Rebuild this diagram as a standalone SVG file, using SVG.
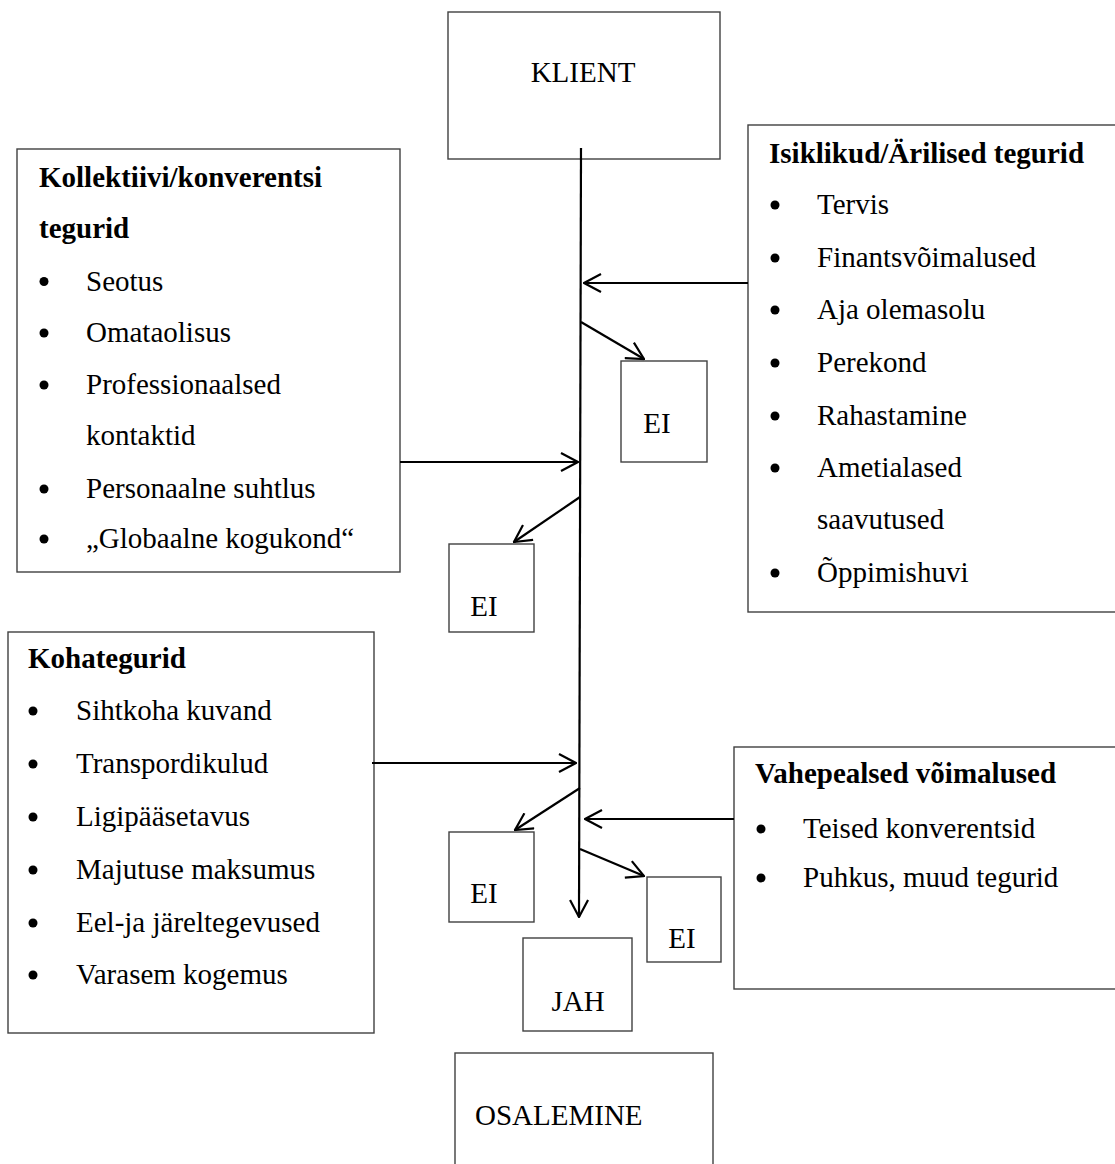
<svg xmlns="http://www.w3.org/2000/svg" width="1115" height="1164" viewBox="0 0 1115 1164">
<style>
.box{fill:#fff;stroke:#404040;stroke-width:1.4}
.t{font-family:"Liberation Serif","Times New Roman",serif;font-size:29px;fill:#000}
.b{font-weight:bold}
.c{stroke:#000;stroke-width:2.2;fill:none}
.dot{fill:#000}
</style>
<defs>
<marker id="ah" viewBox="0 0 20 20" refX="19" refY="10" markerWidth="20" markerHeight="20" markerUnits="userSpaceOnUse" orient="auto">
<path d="M2,1 L19,10 L2,19" fill="none" stroke="#000" stroke-width="2.2"/>
</marker>
</defs>
<rect width="1115" height="1164" fill="#fff"/>

<g id="klient"><rect class="box" x="448" y="12" width="272" height="147"/><text class="t" x="583" y="82" text-anchor="middle">KLIENT</text></g>

<g id="kollektiivi">
<rect class="box" x="17" y="149" width="383" height="423"/>
<text class="t b" x="39" y="187">Kollektiivi/konverentsi</text>
<text class="t b" x="39" y="238">tegurid</text>
<circle class="dot" cx="44" cy="281.5" r="4.5"/><text class="t" x="86" y="291">Seotus</text>
<circle class="dot" cx="44" cy="333" r="4.5"/><text class="t" x="86" y="342">Omataolisus</text>
<circle class="dot" cx="44" cy="385" r="4.5"/><text class="t" x="86" y="394">Professionaalsed</text>
<text class="t" x="86" y="445">kontaktid</text>
<circle class="dot" cx="44" cy="489" r="4.5"/><text class="t" x="86" y="498">Personaalne suhtlus</text>
<circle class="dot" cx="44" cy="539" r="4.5"/><text class="t" x="86" y="548">„Globaalne kogukond“</text>
</g>

<g id="isiklikud">
<rect class="box" x="748" y="125" width="380" height="487"/>
<text class="t b" x="769" y="163">Isiklikud/Ärilised tegurid</text>
<circle class="dot" cx="775" cy="205" r="4.5"/><text class="t" x="817" y="214">Tervis</text>
<circle class="dot" cx="775" cy="258" r="4.5"/><text class="t" x="817" y="267">Finantsvõimalused</text>
<circle class="dot" cx="775" cy="310" r="4.5"/><text class="t" x="817" y="319">Aja olemasolu</text>
<circle class="dot" cx="775" cy="363" r="4.5"/><text class="t" x="817" y="372">Perekond</text>
<circle class="dot" cx="775" cy="416" r="4.5"/><text class="t" x="817" y="425">Rahastamine</text>
<circle class="dot" cx="775" cy="468" r="4.5"/><text class="t" x="817" y="477">Ametialased</text>
<text class="t" x="817" y="529">saavutused</text>
<circle class="dot" cx="775" cy="573" r="4.5"/><text class="t" x="817" y="582">Õppimishuvi</text>
</g>

<g id="kohategurid">
<rect class="box" x="8" y="632" width="366" height="401"/>
<text class="t b" x="28" y="668">Kohategurid</text>
<circle class="dot" cx="33" cy="711" r="4.5"/><text class="t" x="76" y="720">Sihtkoha kuvand</text>
<circle class="dot" cx="33" cy="764" r="4.5"/><text class="t" x="76" y="773">Transpordikulud</text>
<circle class="dot" cx="33" cy="817" r="4.5"/><text class="t" x="76" y="826">Ligipääsetavus</text>
<circle class="dot" cx="33" cy="870" r="4.5"/><text class="t" x="76" y="879">Majutuse maksumus</text>
<circle class="dot" cx="33" cy="923" r="4.5"/><text class="t" x="76" y="932">Eel-ja järeltegevused</text>
<circle class="dot" cx="33" cy="975" r="4.5"/><text class="t" x="76" y="984">Varasem kogemus</text>
</g>

<g id="vahepealsed">
<rect class="box" x="734" y="747" width="390" height="242"/>
<text class="t b" x="755" y="783">Vahepealsed võimalused</text>
<circle class="dot" cx="761" cy="829" r="4.5"/><text class="t" x="803" y="838">Teised konverentsid</text>
<circle class="dot" cx="761" cy="878" r="4.5"/><text class="t" x="803" y="887">Puhkus, muud tegurid</text>
</g>

<g id="ei1"><rect class="box" x="621" y="361" width="86" height="101"/><text class="t" x="657" y="433" text-anchor="middle">EI</text></g>
<g id="ei2"><rect class="box" x="449" y="544" width="85" height="88"/><text class="t" x="484" y="616" text-anchor="middle">EI</text></g>
<g id="ei3"><rect class="box" x="449" y="832" width="85" height="90"/><text class="t" x="484" y="903" text-anchor="middle">EI</text></g>
<g id="ei4"><rect class="box" x="647" y="877" width="74" height="85"/><text class="t" x="682" y="948" text-anchor="middle">EI</text></g>
<g id="jah"><rect class="box" x="523" y="938" width="109" height="93"/><text class="t" x="578" y="1011" text-anchor="middle">JAH</text></g>
<g id="osalemine"><rect class="box" x="455" y="1053" width="258" height="130"/><text class="t" x="475" y="1125">OSALEMINE</text></g>

<g id="connectors">
<path class="c" d="M581,148 L579,917" stroke-width="2.6" marker-end="url(#ah)"/>
<path class="c" d="M748,283 L584,283" marker-end="url(#ah)"/>
<path class="c" d="M581,322 L644,359" marker-end="url(#ah)"/>
<path class="c" d="M400,462 L578,462" marker-end="url(#ah)"/>
<path class="c" d="M580,497 L514,542" marker-end="url(#ah)"/>
<path class="c" d="M372,763 L576,763" marker-end="url(#ah)"/>
<path class="c" d="M580,788 L515,830" marker-end="url(#ah)"/>
<path class="c" d="M734,819 L585,819" marker-end="url(#ah)"/>
<path class="c" d="M580,849 L644,876" marker-end="url(#ah)"/>
</g>
</svg>
